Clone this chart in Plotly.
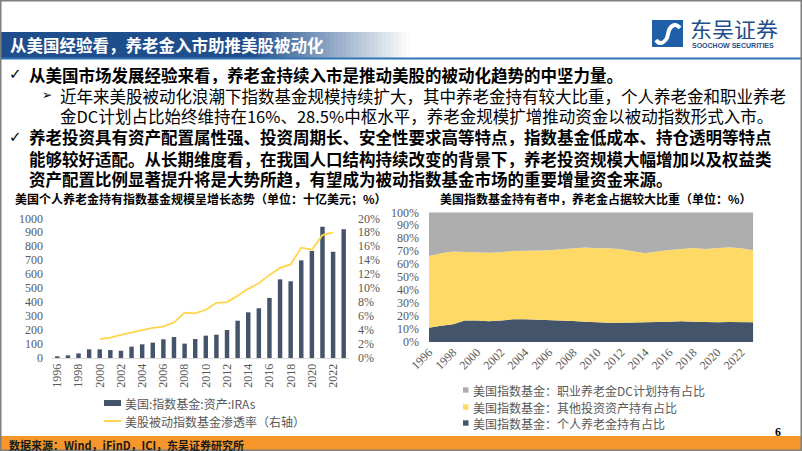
import plotly.graph_objects as go

W, H = 802, 451

# ---- data ----
years = list(range(1996, 2024))
ira_assets = [10, 19, 33, 62, 62, 57, 52, 81, 98, 110, 134, 150, 103, 136,
              160, 167, 200, 267, 327, 356, 430, 563, 549, 699, 766, 940, 761, 921]
pen_years = list(range(2000, 2023))
penetration = [2.7, 2.9, 3.3, 3.7, 4.0, 4.3, 4.5, 5.1, 6.5, 6.4, 6.9, 7.9,
               8.0, 8.9, 9.9, 10.7, 11.9, 12.9, 13.4, 15.8, 15.5, 17.6, 18.0]

ira_share = [11.0, 12.6, 13.6, 16.5, 16.5, 16.0, 16.5, 17.5, 17.5, 17.2, 17.2, 17.0, 16.2, 15.7,
             15.2, 14.9, 14.9, 14.9, 15.4, 15.4, 15.7, 16.0, 15.7, 15.4, 15.2, 15.4, 15.2, 15.2]
other_share = [55.3, 55.8, 56.1, 53.2, 52.7, 52.9, 52.7, 52.7, 52.9, 53.0, 53.5, 54.5, 56.0, 57.1,
               57.0, 57.3, 56.6, 55.3, 53.0, 54.3, 55.3, 55.7, 56.8, 56.3, 57.3, 57.6, 57.0, 55.5]
dc_share = [33.7, 31.6, 30.3, 30.3, 30.8, 31.1, 30.8, 29.8, 29.6, 29.8, 29.3, 28.5, 27.8, 27.2,
            27.8, 27.8, 28.5, 29.8, 31.6, 30.3, 29.0, 28.3, 27.5, 28.3, 27.5, 27.0, 27.8, 29.3]

left_names = ["美国:指数基金:资产:IRAs", "美股被动指数基金渗透率（右轴）"]
right_names = ["美国指数基金：职业养老金DC计划持有占比",
               "美国指数基金：其他投资资产持有占比",
               "美国指数基金：个人养老金持有占比"]

header_title = "从美国经验看，养老金入市助推美股被动化"
left_title = "美国个人养老金持有指数基金规模呈增长态势（单位：十亿美元；%）"
right_title = "美国指数基金持有者中，养老金占据较大比重（单位：%）"
body_lines = [
    ("check", True, "从美国市场发展经验来看，养老金持续入市是推动美股的被动化趋势的中坚力量。"),
    ("arrow", False, "近年来美股被动化浪潮下指数基金规模持续扩大，其中养老金持有较大比重，个人养老金和职业养老"),
    ("", False, "金DC计划占比始终维持在16%、28.5%中枢水平，养老金规模扩增推动资金以被动指数形式入市。"),
    ("check", True, "养老投资具有资产配置属性强、投资周期长、安全性要求高等特点，指数基金低成本、持仓透明等特点"),
    ("", True, "能够较好适配。从长期维度看，在我国人口结构持续改变的背景下，养老投资规模大幅增加以及权益类"),
    ("", True, "资产配置比例显著提升将是大势所趋，有望成为被动指数基金市场的重要增量资金来源。"),
]
source_text = "数据来源：Wind，iFinD，ICI，东吴证券研究所"

# ---- styles ----
DARK = "#44546A"
LINE_YEL = "#FFD44D"
AREA_YEL = "#FFD966"
GRAY = "#AEAEAE"
TICK = "#595959"
CJK = "Noto Sans CJK SC, DejaVu Sans, sans-serif"
SERIF = "Liberation Serif, serif"


def px(x):
    return x / W


def py(y):
    return 1 - y / H


fig = go.Figure()

fig.add_trace(go.Bar(x=years, y=ira_assets, name=left_names[0], marker_color=DARK,
                     width=0.42, xaxis="x", yaxis="y"))
fig.add_trace(go.Scatter(x=pen_years, y=penetration, name=left_names[1], mode="lines",
                         line=dict(color=LINE_YEL, width=1.8), xaxis="x", yaxis="y2"))

for vals, name, col in [(ira_share, right_names[2], DARK),
                        (other_share, right_names[1], AREA_YEL),
                        (dc_share, right_names[0], GRAY)]:
    fig.add_trace(go.Scatter(x=years, y=vals, name=name, mode="lines", stackgroup="one",
                             line=dict(width=0, color=col), fillcolor=col,
                             xaxis="x2", yaxis="y3"))

tickfont = dict(family=SERIF, size=12, color=TICK)
even_years = list(range(1996, 2023, 2))

fig.update_layout(
    template="none",
    width=W, height=H,
    margin=dict(l=0, r=0, t=0, b=0, pad=0),
    paper_bgcolor="white", plot_bgcolor="rgba(0,0,0,0)",
    showlegend=False,
    xaxis=dict(domain=[px(52.0), px(349.0)], range=[1995.5, 2023.5], anchor="y",
               tickvals=even_years, ticktext=[str(v) for v in even_years], tickangle=-90,
               tickfont=tickfont, showgrid=False, zeroline=False, showline=True,
               linecolor="#D9D9D9", linewidth=1, ticks="", automargin=False),
    yaxis=dict(domain=[py(358), py(218.3)], range=[0, 1000], dtick=100, anchor="x",
               tickfont=tickfont, showgrid=False, zeroline=False, ticks="",
               ticklabelstandoff=8, automargin=False),
    yaxis2=dict(overlaying="y", side="right", anchor="x", range=[0, 20], dtick=2,
                ticksuffix="%", tickfont=tickfont, showgrid=False, zeroline=False, ticks="",
                ticklabelstandoff=8, automargin=False),
    xaxis2=dict(domain=[px(429), px(753.3)], range=[1996, 2023], anchor="y3",
                tickvals=even_years, ticktext=[str(v) for v in even_years], tickangle=-45,
                tickfont=tickfont, showgrid=False, zeroline=False, showline=False, ticks="",
                automargin=False),
    yaxis3=dict(domain=[py(342), py(212.3)], range=[0, 100], dtick=10, ticksuffix="%",
                anchor="x2", tickfont=tickfont, showgrid=False, zeroline=False, ticks="",
                ticklabelstandoff=9, automargin=False),
)

shapes = []
annotations = []


def label(x, y, text, font, xanchor="left", height=None):
    a = dict(x=px(x), y=py(y), xref="paper", yref="paper", text=text, showarrow=False,
             xanchor=xanchor, yanchor="middle", font=font)
    if height:
        a["height"] = height
        a["valign"] = "middle"
    annotations.append(a)


# header gradient banner
shapes.append(dict(type="rect", xref="paper", yref="paper", x0=px(0), x1=px(250),
                   y0=py(59), y1=py(32), fillcolor="rgb(31,78,140)", line_width=0, layer="below"))
steps = 40
for i in range(steps):
    t = (i + 0.5) / steps
    r = int(31 + (255 - 31) * t)
    g = int(78 + (255 - 78) * t)
    b = int(140 + (255 - 140) * t)
    xa = 250 + 160 * i / steps
    xb = 250 + 160 * (i + 1) / steps + 0.5
    shapes.append(dict(type="rect", xref="paper", yref="paper", x0=px(xa), x1=px(xb),
                       y0=py(59), y1=py(32), fillcolor=f"rgb({r},{g},{b})", line_width=0,
                       layer="below"))
shapes.append(dict(type="line", xref="paper", yref="paper", x0=0, x1=1, y0=py(58.5), y1=py(58.5),
                   line=dict(color="#2E75B6", width=2)))
label(8, 45, header_title, dict(family=CJK, size=16.5, color="white", weight="bold"))

# logo
shapes.append(dict(type="rect", xref="paper", yref="paper", x0=px(652), x1=px(683),
                   y0=py(47), y1=py(20), fillcolor="#1F5FA8", line_width=0))
shapes.append(dict(type="path", xref="paper", yref="paper",
                   path=(f"M {px(656)},{py(40)} Q {px(661)},{py(47)} {px(667)},{py(38)} "
                         f"L {px(669)},{py(30)} Q {px(674)},{py(21)} {px(680)},{py(28)}"),
                   line=dict(color="white", width=4)))
label(688, 28, "东吴证券", dict(family=CJK, size=22, color="#1F4E8C"), height=22)
label(690, 45, "SOOCHOW SECURITIES",
      dict(family="Liberation Sans", size=7, color="#1F4E8C", weight="bold"), height=8)

# body text
line_y = [74, 95, 115, 137, 158, 178]
for (bullet, bold, txt), yy in zip(body_lines, line_y):
    weight = "bold" if bold else "normal"
    if bullet == "check":
        label(7, yy, "✓", dict(family="DejaVu Sans", size=15, color="black"), height=18)
    if bullet == "arrow":
        label(40, yy, "➢", dict(family="DejaVu Sans", size=12, color="black"), height=16)
    x0 = 58 if (bullet == "arrow" or (not bold)) else 27
    label(x0, yy, txt, dict(family=CJK, size=16.5, color="black", weight=weight), height=19)

# chart titles
label(201, 198, left_title, dict(family=CJK, size=12, color="black", weight="bold"),
      xanchor="center", height=14)
label(596, 198, right_title, dict(family=CJK, size=12, color="black", weight="bold"),
      xanchor="center", height=14)

# left legend
shapes.append(dict(type="rect", xref="paper", yref="paper", x0=px(104), x1=px(121),
                   y0=py(406), y1=py(400), fillcolor=DARK, line_width=0))
shapes.append(dict(type="line", xref="paper", yref="paper", x0=px(104), x1=px(121),
                   y0=py(421), y1=py(421), line=dict(color=LINE_YEL, width=2)))
for name, yy in zip(left_names, [403, 421]):
    label(123, yy, name, dict(family=CJK, size=12, color=TICK), height=15)

# right legend
for name, col, yy in zip(right_names, [GRAY, AREA_YEL, DARK], [390, 407, 423]):
    shapes.append(dict(type="rect", xref="paper", yref="paper", x0=px(463), x1=px(468.5),
                       y0=py(yy + 2.7), y1=py(yy - 2.7), fillcolor=col, line_width=0))
    label(471, yy, name, dict(family=CJK, size=12, color=TICK), height=15)

# footer
shapes.append(dict(type="rect", xref="paper", yref="paper", x0=0, x1=1, y0=0, y1=py(436),
                   fillcolor="#F7962B", line_width=0))
label(7, 444, source_text, dict(family=CJK, size=11, color="#1A1A1A", weight="bold"), height=13)
label(778, 431, "6", dict(family=SERIF, size=12, color="black", weight="bold"),
      xanchor="center", height=13)

# slide frame
shapes.append(dict(type="rect", xref="paper", yref="paper", x0=px(0.75), x1=px(801.25),
                   y0=py(450.25), y1=py(0.75), line=dict(color="#7F7F7F", width=1.5),
                   fillcolor="rgba(0,0,0,0)"))

fig.update_layout(shapes=shapes, annotations=annotations)

# page body margin off so the figure sits at the window origin
fig.write_html("out.html", config={"displayModeBar": False},
               post_script="document.body.style.margin='0';")
